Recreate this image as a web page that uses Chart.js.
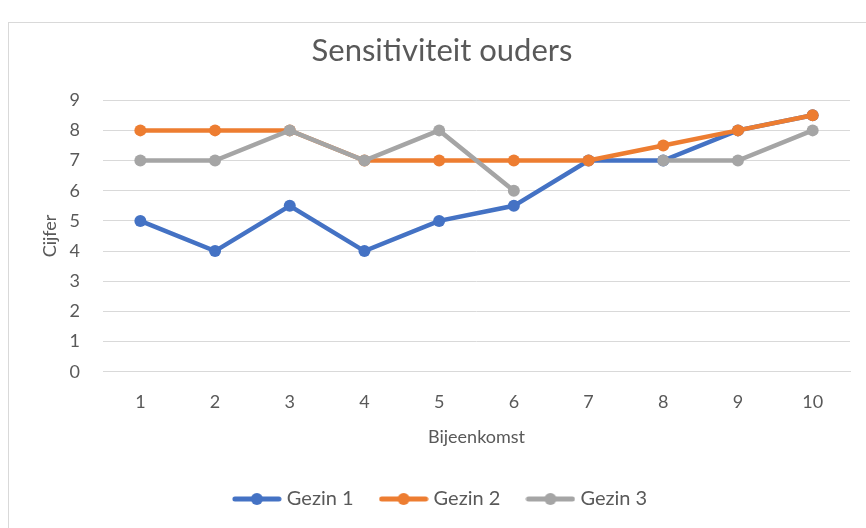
<!DOCTYPE html>
<html>
<head>
<meta charset="utf-8">
<script src="https://cdn.jsdelivr.net/npm/chart.js@4"></script>
<style>
  html, body { margin: 0; padding: 0; background: #fff; }
  body { width: 866px; height: 528px; position: relative; overflow: hidden; }
  #box {
    position: absolute; left: 8px; top: 22px; width: 866px; height: 520px;
    border: 1px solid #d9d9d9; box-sizing: border-box;
  }
  #wrap { position: absolute; left: 9px; top: 23px; width: 857px; height: 505px; }
</style>
</head>
<body>
<div id="box"></div>
<div id="wrap"><canvas id="chart"></canvas></div>
<script>
// Data
const bijeenkomsten = ['1', '2', '3', '4', '5', '6', '7', '8', '9', '10'];
const gezin1 = [5, 4, 5.5, 4, 5, 5.5, 7, 7, 8, 8.5];
const gezin2 = [8, 8, 8, 7, 7, 7, 7, 7.5, 8, 8.5];
const gezin3 = [7, 7, 8, 7, 8, 6, null, 7, 7, 8];

const textColor = '#595959';
const gridColor = '#d9d9d9';
const fontFamily = 'Lato, "Open Sans", sans-serif';

// Legend marker: short line with a dot in the middle, like Excel
const makeMarker = (color) => {
  const c = document.createElement('canvas');
  c.width = 50;
  c.height = 14;
  const g = c.getContext('2d');
  g.strokeStyle = color;
  g.lineWidth = 5;
  g.lineCap = 'round';
  g.beginPath();
  g.moveTo(3, 7);
  g.lineTo(47, 7);
  g.stroke();
  g.fillStyle = color;
  g.beginPath();
  g.arc(25, 7, 6, 0, Math.PI * 2);
  g.fill();
  return c;
};

const makeSet = (label, data, color, order) => ({
  label,
  data,
  borderColor: color,
  backgroundColor: color,
  borderWidth: 4.5,
  pointRadius: 6,
  pointHoverRadius: 6,
  pointBackgroundColor: color,
  pointBorderWidth: 0,
  tension: 0,
  spanGaps: false,
  order,
  marker: makeMarker(color),
});

new Chart(document.getElementById('chart'), {
  type: 'line',
  data: {
    labels: bijeenkomsten,
    datasets: [
      makeSet('Gezin 1', gezin1, '#4472c4', 3),
      makeSet('Gezin 2', gezin2, '#ed7d31', 2),
      makeSet('Gezin 3', gezin3, '#a5a5a5', 1),
    ],
  },
  options: {
    responsive: true,
    maintainAspectRatio: false,
    animation: false,
    layout: { padding: { left: 25, right: 16, top: 8, bottom: 9 } },
    plugins: {
      title: {
        display: true,
        text: 'Sensitiviteit ouders',
        color: textColor,
        font: { family: fontFamily, size: 31, weight: 'normal' },
        padding: { top: 1, bottom: 31 },
      },
      legend: {
        position: 'bottom',
        labels: {
          color: textColor,
          font: { family: fontFamily, size: 20 },
          usePointStyle: true,
          pointStyleWidth: 40,
          padding: 30,
          sort: (a, b) => a.datasetIndex - b.datasetIndex,
          generateLabels: (chart) =>
            Chart.defaults.plugins.legend.labels.generateLabels(chart).map((item) => ({
              ...item,
              pointStyle: chart.data.datasets[item.datasetIndex].marker,
            })),
        },
      },
      tooltip: { enabled: false },
    },
    scales: {
      x: {
        offset: true,
        grid: { display: false },
        border: { color: gridColor },
        ticks: { color: textColor, font: { family: fontFamily, size: 18 }, padding: 12 },
        title: {
          display: true,
          text: 'Bijeenkomst',
          color: textColor,
          font: { family: fontFamily, size: 18 },
          padding: { top: 1, bottom: 11 },
        },
      },
      y: {
        min: 0,
        max: 9,
        grid: { color: gridColor, drawTicks: false },
        border: { display: false },
        ticks: { stepSize: 1, color: textColor, font: { family: fontFamily, size: 18 }, padding: 23 },
        title: {
          display: true,
          text: 'Cijfer',
          color: textColor,
          font: { family: fontFamily, size: 18 },
          padding: { top: 5, bottom: 5 },
        },
        afterFit: (scale) => {
          scale.width = 69;
        },
      },
    },
  },
});
</script>
</body>
</html>
